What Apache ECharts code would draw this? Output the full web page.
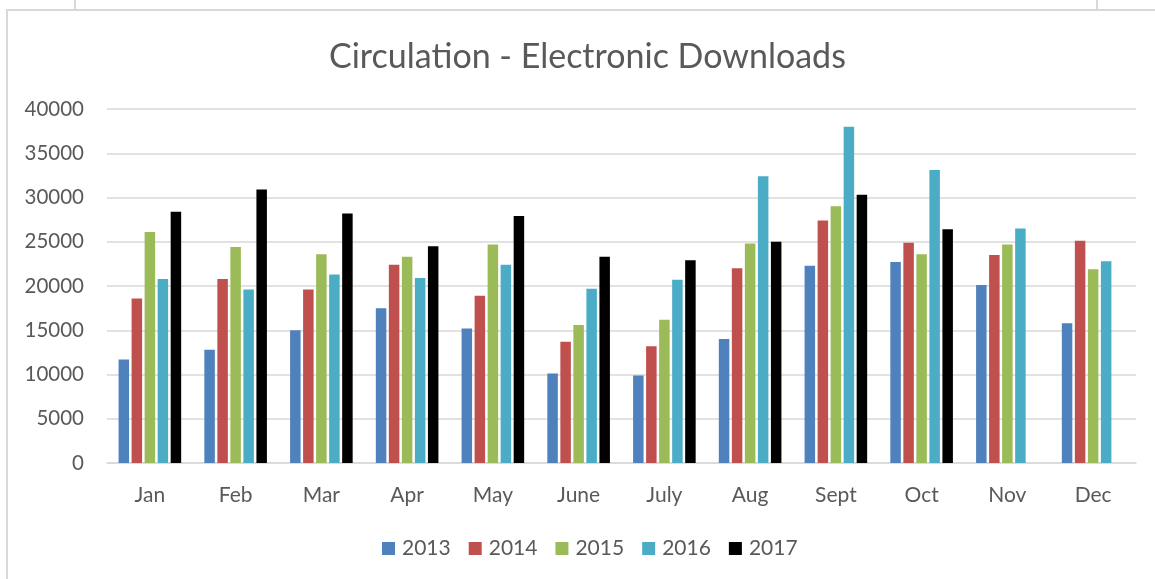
<!DOCTYPE html>
<html>
<head>
<meta charset="utf-8">
<title>Circulation - Electronic Downloads</title>
<script src="https://cdn.jsdelivr.net/npm/echarts@6/dist/echarts.min.js"></script>
<style>
  html, body { margin: 0; padding: 0; background: #ffffff; }
  #chart { width: 1155px; height: 579px; }
</style>
</head>
<body>
<div id="chart"></div>
<script>
// Monthly electronic download counts, one array per year
const months = ['Jan', 'Feb', 'Mar', 'Apr', 'May', 'June', 'July', 'Aug', 'Sept', 'Oct', 'Nov', 'Dec'];
const years = ['2013', '2014', '2015', '2016', '2017'];
const downloads2013 = [11700, 12800, 15000, 17500, 15200, 10100, 9900, 14000, 22300, 22700, 20100, 15800];
const downloads2014 = [18600, 20800, 19600, 22400, 18900, 13700, 13200, 22000, 27400, 24900, 23500, 25100];
const downloads2015 = [26100, 24400, 23600, 23300, 24700, 15600, 16200, 24800, 29000, 23600, 24700, 21900];
const downloads2016 = [20800, 19600, 21300, 20900, 22400, 19700, 20700, 32400, 38000, 33100, 26500, 22800];
const downloads2017 = [28400, 30900, 28200, 24500, 27900, 23300, 22900, 25000, 30300, 26400, null, null];
const yTicks = { min: 0, max: 40000, interval: 5000 };

const seriesData = [downloads2013, downloads2014, downloads2015, downloads2016, downloads2017];
const colors = ['#4F81BD', '#C0504D', '#9BBB59', '#4BACC6', '#000000'];
const textColor = '#595959';
const fontFamily = 'Lato, "Open Sans", sans-serif';

const chart = echarts.init(document.getElementById('chart'), null, { renderer: 'canvas' });

chart.setOption({
  animation: false,
  backgroundColor: '#ffffff',
  color: colors,
  title: {
    text: 'Circulation - Electronic Downloads',
    left: 324,
    top: 35,
    textStyle: { color: textColor, fontFamily: fontFamily, fontSize: 34, fontWeight: 'normal' }
  },
  legend: {
    data: years,
    left: 377,
    top: 533,
    itemWidth: 13,
    itemHeight: 13,
    itemGap: 18,
    icon: 'rect',
    textStyle: { color: textColor, fontFamily: fontFamily, fontSize: 21, padding: [0, 0, 0, 2] }
  },
  grid: { left: 107, right: 19, top: 109, bottom: 116, containLabel: false },
  xAxis: {
    type: 'category',
    data: months,
    axisLine: { show: true, lineStyle: { color: '#d9d9d9', width: 1.5 } },
    axisTick: { show: false },
    axisLabel: { color: textColor, fontFamily: fontFamily, fontSize: 21, margin: 22 }
  },
  yAxis: {
    type: 'value',
    min: yTicks.min,
    max: yTicks.max,
    interval: yTicks.interval,
    axisLine: { show: false },
    axisTick: { show: false },
    axisLabel: {
      color: textColor, fontFamily: fontFamily, fontSize: 20.5, margin: 23,
      formatter: (v) => String(v)
    },
    splitLine: { lineStyle: { color: '#d9d9d9', width: 1.5 } }
  },
  series: years.map((name, i) => ({
    name: name,
    type: 'bar',
    data: seriesData[i],
    barWidth: 10.5,
    barGap: '24%',
    itemStyle: { color: colors[i] }
  })),
  graphic: [
    {
      type: 'rect',
      shape: { x: 7, y: 10, width: 1200, height: 620 },
      style: { fill: 'none', stroke: '#d9d9d9', lineWidth: 2 },
      silent: true
    },
    {
      type: 'line',
      shape: { x1: 75, y1: 0, x2: 75, y2: 10 },
      style: { stroke: '#d9d9d9', lineWidth: 2 },
      silent: true
    },
    {
      type: 'line',
      shape: { x1: 1097, y1: 0, x2: 1097, y2: 10 },
      style: { stroke: '#d9d9d9', lineWidth: 2 },
      silent: true
    }
  ]
});
</script>
</body>
</html>
